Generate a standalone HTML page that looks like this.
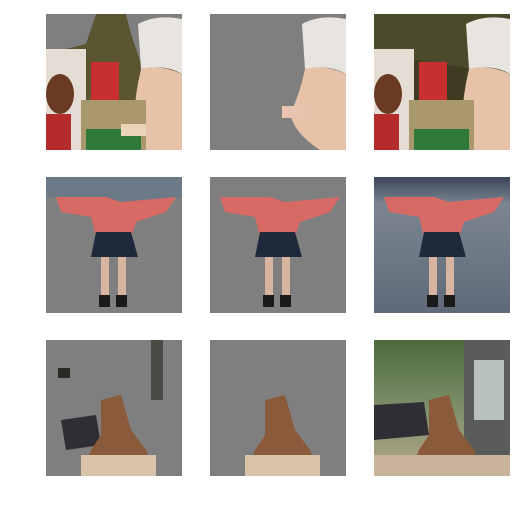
<!DOCTYPE html>
<html><head><meta charset="utf-8"><style>
html,body{margin:0;padding:0;background:#fff;width:520px;height:510px;overflow:hidden}
svg{display:block}
</style></head><body>
<svg width="520" height="510" viewBox="0 0 520 510">
<defs>
<clipPath id="c"><rect x="0" y="0" width="136" height="136"/></clipPath>
<linearGradient id="street" x1="0" y1="0" x2="0" y2="1"><stop offset="0" stop-color="#3a4658"/><stop offset="0.2" stop-color="#7b8592"/><stop offset="1" stop-color="#5f6a78"/></linearGradient>
<linearGradient id="tree" x1="0" y1="0" x2="0" y2="1"><stop offset="0" stop-color="#4c6a3a"/><stop offset="0.5" stop-color="#7d8f6a"/><stop offset="1" stop-color="#b5a588"/></linearGradient>
</defs>

<!-- Row 1 -->
<g transform="translate(46,14)" clip-path="url(#c)">
<rect width="136" height="136" fill="#7f7f7f"/>
<path d="M0,40 L20,35 L40,30 L50,0 L80,0 L85,20 L95,50 L110,45 L136,60 L136,136 L0,136 Z" fill="#5a5430"/>
<path d="M92,10 Q110,0 136,5 L136,60 Q120,50 95,55 Z" fill="#e8e4e0"/>
<path d="M95,55 Q115,50 136,60 L136,136 L90,136 Q85,95 95,55 Z" fill="#e6c2a8"/>
<rect x="0" y="35" width="40" height="101" fill="#e5dcd4"/>
<ellipse cx="14" cy="80" rx="14" ry="20" fill="#6b3a22"/>
<rect x="0" y="100" width="25" height="36" fill="#b52a2a"/>
<rect x="45" y="48" width="28" height="38" fill="#c83030"/>
<rect x="35" y="86" width="65" height="50" fill="#a9986c"/>
<rect x="40" y="115" width="55" height="21" fill="#2e7a3a"/>
<rect x="75" y="110" width="25" height="12" fill="#e8d4b8"/>
</g>
<g transform="translate(210,14)" clip-path="url(#c)">
<rect width="136" height="136" fill="#7f7f7f"/>
<path d="M92,10 Q110,0 136,5 L136,60 Q120,50 95,55 Z" fill="#e8e4e0"/>
<path d="M95,55 Q115,50 136,60 L136,136 L110,136 Q85,120 80,100 Q90,80 95,55 Z" fill="#e6c2a8"/>
<rect x="72" y="92" width="25" height="12" fill="#e8c4b0"/>
</g>
<g transform="translate(374,14)" clip-path="url(#c)">
<rect width="136" height="136" fill="#3f3a22"/>
<path d="M0,0 L136,0 L136,60 L0,40 Z" fill="#4a4a2a"/>
<path d="M92,10 Q110,0 136,5 L136,60 Q120,50 95,55 Z" fill="#e8e4e0"/>
<path d="M95,55 Q115,50 136,60 L136,136 L90,136 Q85,95 95,55 Z" fill="#e6c2a8"/>
<rect x="0" y="35" width="40" height="101" fill="#e5dcd4"/>
<ellipse cx="14" cy="80" rx="14" ry="20" fill="#6b3a22"/>
<rect x="0" y="100" width="25" height="36" fill="#b52a2a"/>
<rect x="45" y="48" width="28" height="38" fill="#c83030"/>
<rect x="35" y="86" width="65" height="50" fill="#a9986c"/>
<rect x="40" y="115" width="55" height="21" fill="#2e7a3a"/>
</g>

<!-- Row 2 -->
<g transform="translate(46,177)" clip-path="url(#c)">
<rect width="136" height="136" fill="#7f7f7f"/>
<path d="M0,0 L136,0 L136,20 L90,30 L60,25 L0,20 Z" fill="#6c7a88"/>
<path d="M10,20 L60,20 L75,25 L130,20 L120,35 L90,45 L85,60 L50,60 L45,40 L15,35 Z" fill="#d86a66"/>
<path d="M50,55 L85,55 L92,80 L45,80 Z" fill="#1e2a3c"/>
<rect x="55" y="80" width="8" height="40" fill="#d9b4a0"/>
<rect x="72" y="80" width="8" height="40" fill="#d9b4a0"/>
<rect x="53" y="118" width="11" height="12" fill="#1a1a1a"/>
<rect x="70" y="118" width="11" height="12" fill="#1a1a1a"/>
</g>
<g transform="translate(210,177)" clip-path="url(#c)">
<rect width="136" height="136" fill="#7f7f7f"/>
<path d="M10,20 L60,20 L75,25 L130,20 L120,35 L90,45 L85,60 L50,60 L45,40 L15,35 Z" fill="#d86a66"/>
<path d="M50,55 L85,55 L92,80 L45,80 Z" fill="#1e2a3c"/>
<rect x="55" y="80" width="8" height="40" fill="#d9b4a0"/>
<rect x="72" y="80" width="8" height="40" fill="#d9b4a0"/>
<rect x="53" y="118" width="11" height="12" fill="#1a1a1a"/>
<rect x="70" y="118" width="11" height="12" fill="#1a1a1a"/>
</g>
<g transform="translate(374,177)" clip-path="url(#c)">
<rect width="136" height="136" fill="url(#street)"/>
<path d="M10,20 L60,20 L75,25 L130,20 L120,35 L90,45 L85,60 L50,60 L45,40 L15,35 Z" fill="#d86a66"/>
<path d="M50,55 L85,55 L92,80 L45,80 Z" fill="#1e2a3c"/>
<rect x="55" y="80" width="8" height="40" fill="#d9b4a0"/>
<rect x="72" y="80" width="8" height="40" fill="#d9b4a0"/>
<rect x="53" y="118" width="11" height="12" fill="#1a1a1a"/>
<rect x="70" y="118" width="11" height="12" fill="#1a1a1a"/>
</g>

<!-- Row 3 -->
<g transform="translate(46,340)" clip-path="url(#c)">
<rect width="136" height="136" fill="#7f7f7f"/>
<rect x="105" y="0" width="12" height="60" fill="#4a4a44"/>
<rect x="12" y="28" width="12" height="10" fill="#2a2a24"/>
<path d="M15,80 L50,75 L55,105 L20,110 Z" fill="#2e2e34"/>
<path d="M55,60 L75,55 L85,90 L100,110 L110,136 L35,136 L45,110 L55,95 Z" fill="#8a5a3a"/>
<rect x="35" y="115" width="75" height="21" fill="#d8c2a8"/>
</g>
<g transform="translate(210,340)" clip-path="url(#c)">
<rect width="136" height="136" fill="#7f7f7f"/>
<path d="M55,60 L75,55 L85,90 L100,110 L110,136 L35,136 L45,110 L55,95 Z" fill="#8a5a3a"/>
<rect x="35" y="115" width="75" height="21" fill="#d8c2a8"/>
</g>
<g transform="translate(374,340)" clip-path="url(#c)">
<rect width="136" height="136" fill="url(#tree)"/>
<rect x="90" y="0" width="46" height="136" fill="#5a5c5a"/>
<rect x="100" y="20" width="30" height="60" fill="#b8c0c0"/>
<path d="M0,65 L50,62 L55,95 L0,100 Z" fill="#2e2e34"/>
<path d="M55,60 L75,55 L85,90 L100,110 L110,136 L35,136 L45,110 L55,95 Z" fill="#8a5a3a"/>
<rect x="0" y="115" width="136" height="21" fill="#c8b49a"/>
</g>
</svg>
</body></html>
